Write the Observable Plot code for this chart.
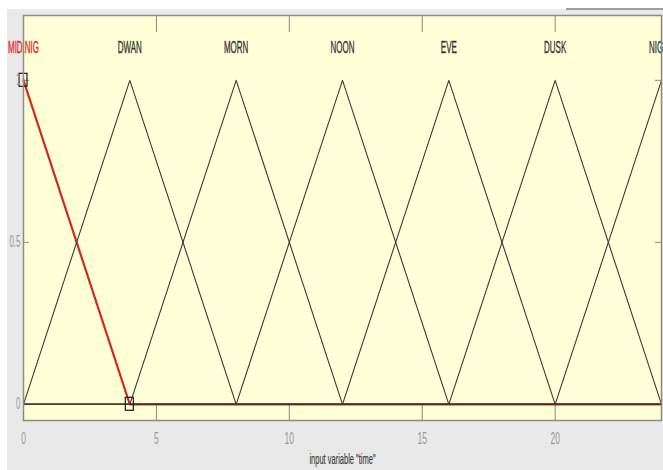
<!DOCTYPE html>
<html><head><meta charset="utf-8">
<script src="https://cdn.jsdelivr.net/npm/d3@7"></script>
<script src="https://cdn.jsdelivr.net/npm/@observablehq/plot@0.6"></script>
<style>
body{margin:0;background:#fff;}
#wrap{position:relative;width:663px;height:470px;overflow:hidden;}
#bg{position:absolute;left:7px;top:9px;right:0;bottom:0;background:#e9e9e9;}
#bar{position:absolute;left:566px;top:8px;right:0;height:2px;background:#a0a0a0;}
#chart{position:absolute;left:0;top:0;}
</style></head><body>
<div id="wrap"><div id="bg"></div><div id="bar"></div><div id="chart"></div></div>
<script>
// Membership functions (trimf parameters a, b, c)
const mfNames = ["MID.NIG", "DWAN", "MORN", "NOON", "EVE", "DUSK", "NIGHT"];
const mfA = [-4, 0, 4, 8, 12, 16, 20];
const mfB = [0, 4, 8, 12, 16, 20, 24];
const mfC = [4, 8, 12, 16, 20, 24, 28];
const selected = "MID.NIG";
const xRange = [0, 24];
const yRange = [-0.05, 1.2];
const xTicks = [0, 5, 10, 15, 20];
const xTickLabels = ["0", "5", "10", "15", "20"];
const yTicks = [0, 0.5, 1];
const yTickLabels = ["0", "0.5", "1"];
const axisLabel = 'input variable "time"';
const labelLevel = 1.1;

const trimf = (x, a, b, c) => Math.max(0, Math.min((x - a) / (b - a), (c - x) / (c - b)));

const curves = [];
const mfs = mfNames.map((name, i) => ({name, a: mfA[i], b: mfB[i], c: mfC[i]}));
for (const m of mfs) {
  const xs = Array.from(new Set([xRange[0], m.a, m.b, m.c, xRange[1]]))
    .filter(x => x >= xRange[0] && x <= xRange[1]).sort((p, q) => p - q);
  for (const x of xs) curves.push({name: m.name, x, y: trimf(x, m.a, m.b, m.c)});
}
const sel = mfs.find(m => m.name === selected);
const verts = [sel.a, sel.b, sel.c].filter(x => x >= xRange[0] && x <= xRange[1])
  .map(x => ({x, y: trimf(x, sel.a, sel.b, sel.c)}));

const font = "Liberation Sans, Arial, sans-serif";
const chart = Plot.plot({
  width: 663, height: 470,
  marginTop: 15, marginBottom: 50, marginLeft: 23, marginRight: 2,
  style: {background: "transparent", fontFamily: font, overflow: "visible"},
  x: {domain: xRange, axis: null},
  y: {domain: yRange, axis: null},
  marks: [
    Plot.frame({fill: "#ffffd8", stroke: null}),
    Plot.ruleX(xTicks.slice(1), {insetTop: 388, stroke: "#8a8a80", strokeWidth: 1}),
    Plot.ruleX(xTicks.slice(1), {insetBottom: 388, stroke: "#8a8a80", strokeWidth: 1}),
    Plot.ruleY(yTicks, {insetRight: 632, stroke: "#8a8a80"}),
    Plot.ruleY(yTicks, {insetLeft: 632, stroke: "#8a8a80"}),
    Plot.line(curves.filter(d => d.name === selected), {x: "x", y: "y", stroke: "#d42a1e", strokeWidth: 2.2}),
    Plot.line(curves.filter(d => d.name !== selected), {x: "x", y: "y", z: "name", stroke: "#3a3a3a", strokeWidth: 1.1}),
    Plot.rect(verts, {x1: "x", x2: "x", y1: "y", y2: "y", insetLeft: -4, insetRight: -4, insetTop: -6.5, insetBottom: -6.5, fill: "none", stroke: "#1a1a1a", strokeWidth: 1.2}),
    Plot.text(mfs, {x: "b", y: () => labelLevel, text: "name", fontSize: 16,
      fill: d => d.name === selected ? "#e0261c" : "#333333",
      stroke: d => d.name === selected ? "#e0261c" : "#333333", strokeWidth: 0.35}),
    Plot.frame({stroke: "#8c8c84", strokeWidth: 1.5}),
    Plot.text(xTicks, {x: d => d, frameAnchor: "bottom", dy: 18, lineAnchor: "middle", fontSize: 17,
      fill: "#999999", text: (d, i) => xTickLabels[i]}),
    Plot.text(yTicks, {y: d => d, frameAnchor: "left", dx: -3, textAnchor: "end", fontSize: 16,
      fill: "#999999", text: (d, i) => yTickLabels[i]}),
    Plot.text([axisLabel], {frameAnchor: "bottom", dy: 43, fontSize: 15, fill: "#3c3c3c",
      stroke: "#3c3c3c", strokeWidth: 0.2})
  ]
});
// condense the type horizontally like the reference
chart.querySelectorAll("text").forEach(t => {
  const tr = t.getAttribute("transform") || "";
  t.setAttribute("transform", `${tr} scale(0.5,1)`);
});
document.getElementById("chart").appendChild(chart);
</script>
</body></html>
